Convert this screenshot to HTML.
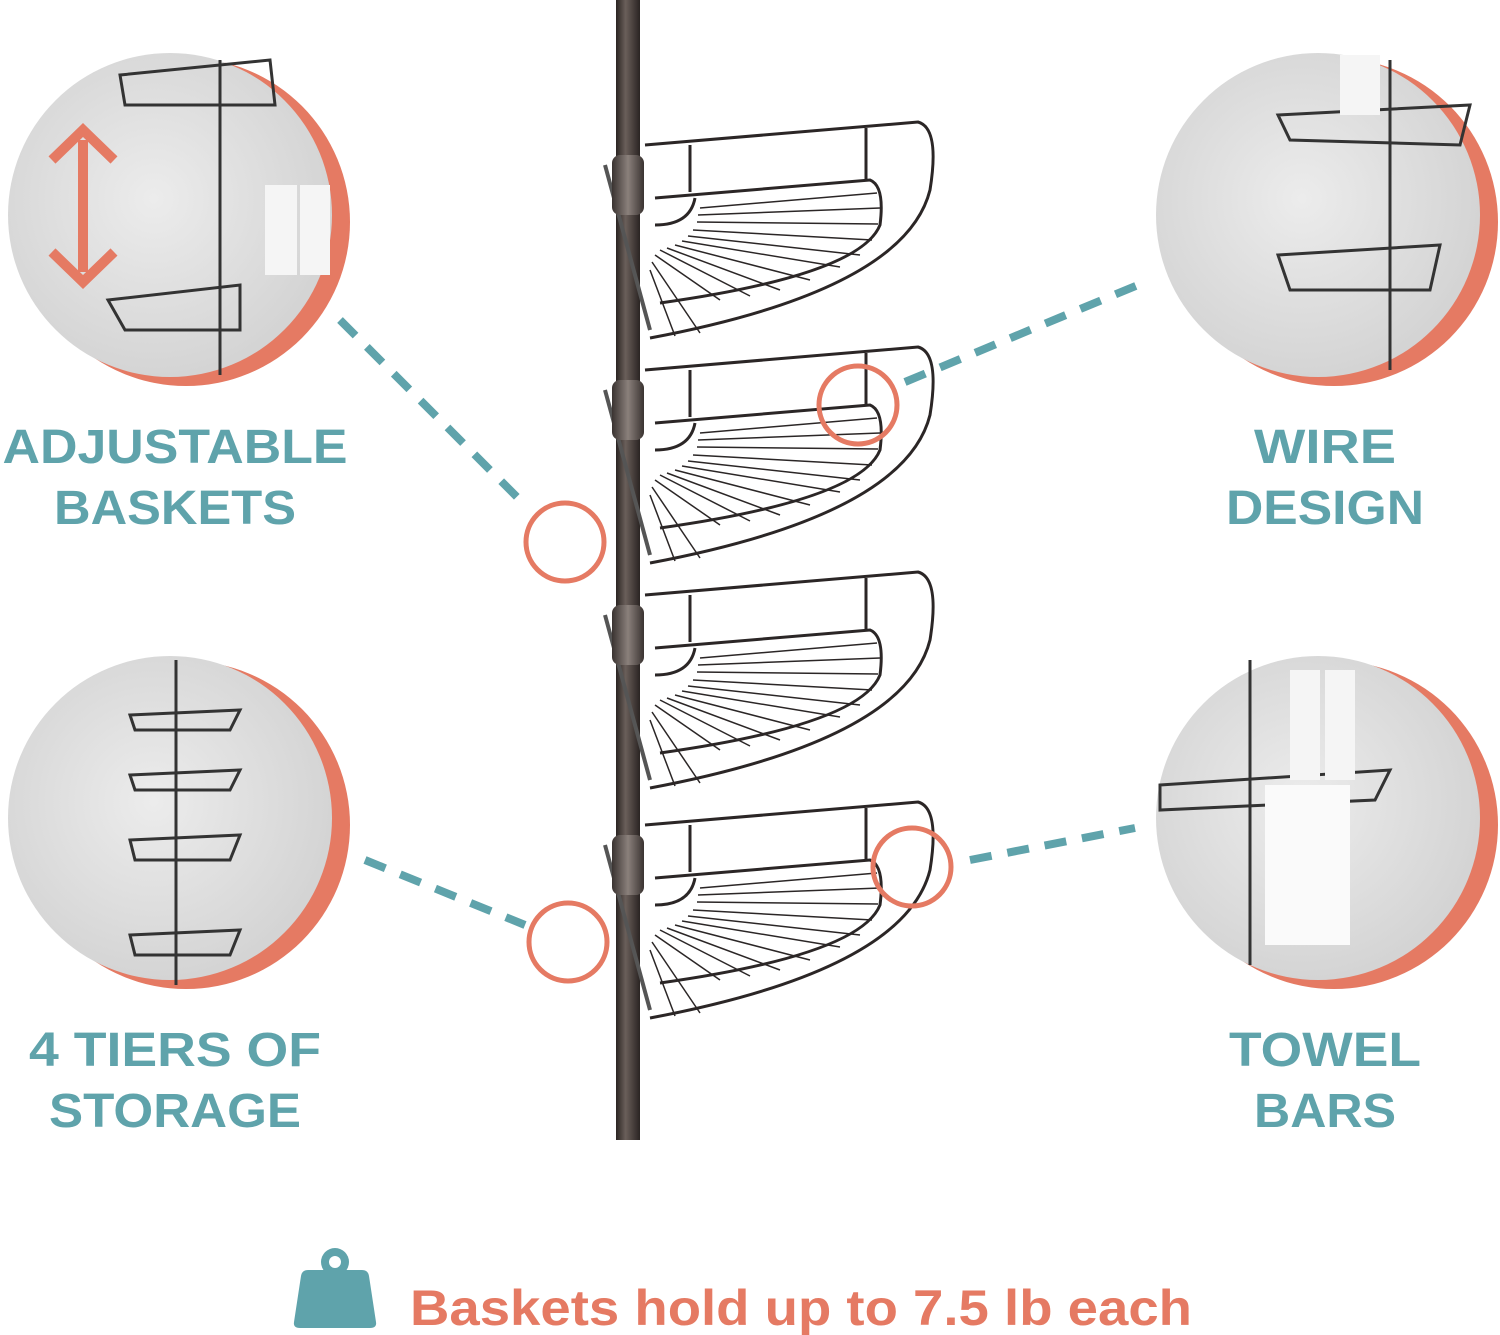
<!DOCTYPE html>
<html><head><style>
html,body{margin:0;padding:0;background:#fff;}
svg{display:block;}
text{font-family:"Liberation Sans",sans-serif;font-weight:bold;}
</style></head><body>
<svg width="1500" height="1335" viewBox="0 0 1500 1335" xmlns="http://www.w3.org/2000/svg">
<defs>
<radialGradient id="g" cx="0.45" cy="0.45" r="0.6">
<stop offset="0" stop-color="#ececec"/><stop offset="1" stop-color="#d2d2d2"/>
</radialGradient>
<linearGradient id="pole" x1="0" x2="1">
<stop offset="0" stop-color="#2a2422"/><stop offset="0.4" stop-color="#6a5f5a"/><stop offset="1" stop-color="#2a2422"/>
</linearGradient>
<linearGradient id="col" x1="0" x2="1">
<stop offset="0" stop-color="#3a3331"/><stop offset="0.5" stop-color="#8a807b"/><stop offset="1" stop-color="#3a3331"/>
</linearGradient>
<g id="basket" fill="none" stroke="#2b2626" stroke-width="3">
<path d="M645,145 L918,122 Q940,128 930,190 Q905,290 650,338"/>
<path d="M655,198 L870,180 Q885,186 880,225 Q860,275 660,303"/>
<line x1="690" y1="145" x2="690" y2="192"/>
<line x1="866" y1="128" x2="866" y2="181"/>
<path d="M655,225 Q690,225 695,198" />
<g stroke-width="1.5">
<line x1="700" y1="208" x2="877" y2="193"/>
<line x1="698" y1="215" x2="880" y2="208"/>
<line x1="697" y1="222" x2="878" y2="224"/>
<line x1="693" y1="230" x2="872" y2="240"/>
<line x1="688" y1="236" x2="860" y2="255"/>
<line x1="682" y1="241" x2="840" y2="267"/>
<line x1="675" y1="245" x2="810" y2="280"/>
<line x1="667" y1="248" x2="780" y2="290"/>
<line x1="660" y1="250" x2="750" y2="296"/>
<line x1="655" y1="255" x2="720" y2="300"/>
<line x1="652" y1="262" x2="700" y2="333"/>
<line x1="650" y1="270" x2="675" y2="336"/>
</g>
<path d="M605,165 L650,330" stroke-width="4" stroke="#555"/>
<rect x="612" y="155" width="32" height="60" rx="8" fill="url(#col)" stroke="none"/>
</g>
</defs>
<rect x="616" y="0" width="24" height="1140" fill="url(#pole)"/>
<use href="#basket"/>
<use href="#basket" y="225"/>
<use href="#basket" y="450"/>
<use href="#basket" y="680"/>

<circle cx="186" cy="222" r="164" fill="#e57a63"/>
<circle cx="170" cy="215" r="162" fill="url(#g)"/>
<circle cx="1334" cy="222" r="164" fill="#e57a63"/>
<circle cx="1318" cy="215" r="162" fill="url(#g)"/>
<circle cx="186" cy="825" r="164" fill="#e57a63"/>
<circle cx="170" cy="818" r="162" fill="url(#g)"/>
<circle cx="1334" cy="825" r="164" fill="#e57a63"/>
<circle cx="1318" cy="818" r="162" fill="url(#g)"/>

<g stroke="#333" stroke-width="3" fill="none">
<line x1="220" y1="60" x2="220" y2="375"/>
<path d="M108,300 L240,285 L240,330 L125,330 Z"/>
<path d="M120,75 L270,60 L275,105 L125,105 Z"/>
<line x1="1390" y1="60" x2="1390" y2="370"/>
<path d="M1278,115 L1470,105 L1460,145 L1290,140 Z"/>
<path d="M1278,255 L1440,245 L1430,290 L1290,290 Z"/>
<line x1="176" y1="660" x2="176" y2="985"/>
<path d="M130,715 L240,710 L230,730 L135,730 Z"/>
<path d="M130,775 L240,770 L230,790 L135,790 Z"/>
<path d="M130,840 L240,835 L230,860 L135,860 Z"/>
<path d="M130,935 L240,930 L230,955 L135,955 Z"/>
<line x1="1250" y1="660" x2="1250" y2="965"/>
<path d="M1160,785 L1390,770 L1375,800 L1160,810 Z"/>
</g>
<rect x="265" y="185" width="32" height="90" fill="#f5f5f5"/>
<rect x="300" y="185" width="30" height="90" fill="#f5f5f5"/>
<rect x="1340" y="55" width="40" height="60" fill="#f5f5f5"/>
<rect x="1290" y="670" width="30" height="110" fill="#f5f5f5"/>
<rect x="1325" y="670" width="30" height="110" fill="#f5f5f5"/>
<rect x="1265" y="785" width="85" height="160" fill="#fafafa"/>
<g stroke="#e57a63" stroke-width="10" fill="none">
<line x1="83" y1="140" x2="83" y2="272"/>
<polyline points="52,160 83,130 114,160"/>
<polyline points="52,252 83,282 114,252"/>
</g>

<g stroke="#5fa3ab" stroke-width="8" stroke-dasharray="22,16" fill="none">
<line x1="340" y1="320" x2="525" y2="505"/>
<line x1="365" y1="860" x2="525" y2="925"/>
<line x1="905" y1="382" x2="1150" y2="280"/>
<line x1="970" y1="860" x2="1135" y2="828"/>
</g>
<g stroke="#e57a63" stroke-width="5" fill="none">
<circle cx="565" cy="542" r="39"/>
<circle cx="568" cy="942" r="39"/>
<circle cx="858" cy="405" r="39"/>
<circle cx="912" cy="867" r="39"/>
</g>

<g fill="#5fa3ab" font-size="48" text-anchor="middle">
<text x="175" y="463" textLength="345" lengthAdjust="spacingAndGlyphs">ADJUSTABLE</text>
<text x="175" y="524" textLength="242" lengthAdjust="spacingAndGlyphs">BASKETS</text>
<text x="1325" y="463" textLength="142" lengthAdjust="spacingAndGlyphs">WIRE</text>
<text x="1325" y="524" textLength="198" lengthAdjust="spacingAndGlyphs">DESIGN</text>
<text x="175" y="1066" textLength="292" lengthAdjust="spacingAndGlyphs">4 TIERS OF</text>
<text x="175" y="1127" textLength="252" lengthAdjust="spacingAndGlyphs">STORAGE</text>
<text x="1325" y="1066" textLength="192" lengthAdjust="spacingAndGlyphs">TOWEL</text>
<text x="1325" y="1127" textLength="142" lengthAdjust="spacingAndGlyphs">BARS</text>
</g>

<circle cx="335" cy="1262" r="14" fill="#5fa3ab"/>
<circle cx="335" cy="1262" r="6" fill="#fff"/>
<path d="M308,1270 L362,1270 Q368,1270 369,1276 L376,1322 Q377,1328 370,1328 L300,1328 Q293,1328 294,1322 L301,1276 Q302,1270 308,1270 Z" fill="#5fa3ab"/>
<text x="410" y="1325" font-size="50" fill="#e57a63" textLength="782" lengthAdjust="spacingAndGlyphs">Baskets hold up to 7.5 lb each</text>
</svg>
</body></html>
